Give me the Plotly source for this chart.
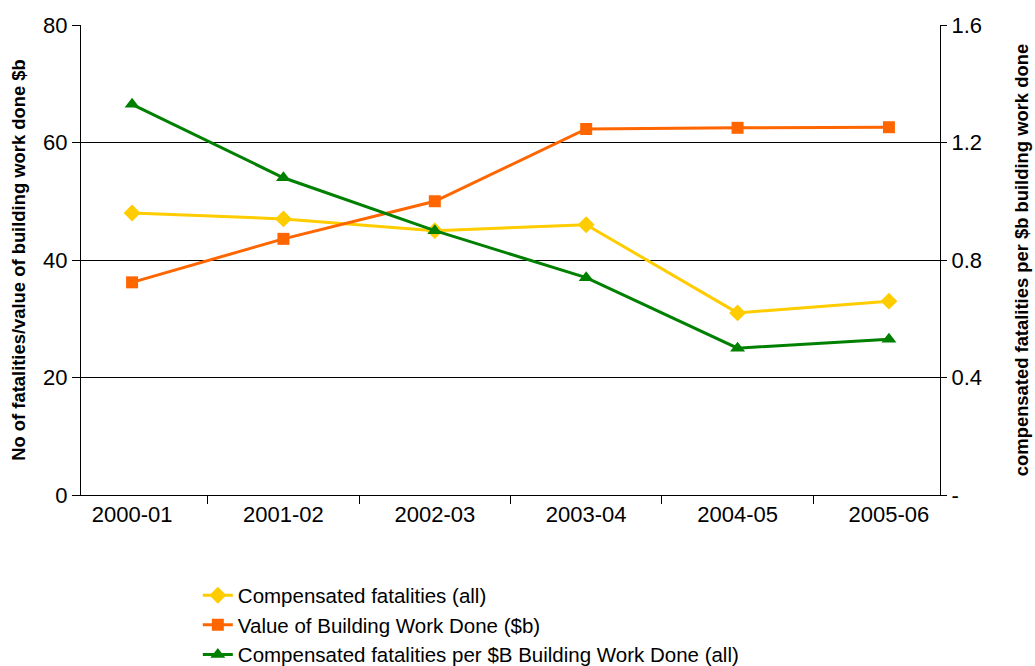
import plotly.graph_objects as go

# Financial years on the category axis
years = ["2000-01", "2001-02", "2002-03", "2003-04", "2004-05", "2005-06"]

# Series values
fatalities_all = [48, 47, 45, 46, 31, 33]
building_work_value = [36.2, 43.6, 50.0, 62.3, 62.5, 62.6]
fatalities_per_billion = [1.33, 1.08, 0.90, 0.74, 0.50, 0.53]

# Axis tick labels
left_ticks = [0, 20, 40, 60, 80]
right_tickvals = [0, 0.4, 0.8, 1.2, 1.6]
right_ticktext = ["-", "0.4", "0.8", "1.2", "1.6"]

FONT = "Liberation Sans, Arial, sans-serif"

fig = go.Figure()

fig.add_trace(go.Scatter(
    x=years, y=fatalities_all, name="Compensated fatalities (all)",
    mode="lines+markers",
    line=dict(color="#FFCC00", width=3),
    marker=dict(symbol="diamond", size=13, color="#FFCC00"),
))
fig.add_trace(go.Scatter(
    x=years, y=building_work_value, name="Value of Building Work Done ($b)",
    mode="lines+markers",
    line=dict(color="#FF6600", width=3),
    marker=dict(symbol="square", size=12, color="#FF6600"),
))
fig.add_trace(go.Scatter(
    x=years, y=fatalities_per_billion,
    name="Compensated fatalities per $B Building Work Done (all)",
    mode="lines+markers", yaxis="y2",
    line=dict(color="#008000", width=3),
    marker=dict(symbol="triangle-up", size=13, color="#008000"),
))

fig.update_layout(
    width=1035, height=666,
    margin=dict(l=81, r=95, t=25, b=171, autoexpand=False),
    paper_bgcolor="white", plot_bgcolor="white",
    font=dict(family=FONT, size=20, color="black"),
    showlegend=True,
    legend=dict(
        x=0.136, y=-0.171, xanchor="left", yanchor="top",
        font=dict(family=FONT, size=20.5, color="black"),
        bgcolor="rgba(0,0,0,0)",
    ),
    xaxis=dict(
        type="category", categoryorder="array", categoryarray=years,
        tickson="boundaries", ticks="outside", ticklen=8, tickcolor="black",
        showline=True, linecolor="black", linewidth=1,
        showgrid=False, zeroline=False,
        tickfont=dict(family=FONT, size=22, color="black"),
    ),
    yaxis=dict(
        range=[0, 80], tickvals=left_ticks,
        ticks="outside", ticklen=8, tickcolor="black",
        showline=True, linecolor="black", linewidth=1,
        showgrid=True, gridcolor="black", gridwidth=1, zeroline=False,
        tickfont=dict(family=FONT, size=22, color="black"),
        title=dict(text="<b>No of fatalities/value of building work done $b</b>",
                   font=dict(family=FONT, size=18.4, color="black"), standoff=12),
    ),
    yaxis2=dict(
        range=[0, 1.6], tickvals=right_tickvals, ticktext=right_ticktext,
        overlaying="y", side="right",
        ticks="outside", ticklen=6, tickcolor="black",
        showline=True, linecolor="black", linewidth=1,
        showgrid=False, zeroline=False,
        tickfont=dict(family=FONT, size=22, color="black"),
        title=dict(text="<b>compensated fatalities per $b building work done</b>",
                   font=dict(family=FONT, size=18.4, color="black"), standoff=34),
    ),
)

fig.write_html("out.html")
